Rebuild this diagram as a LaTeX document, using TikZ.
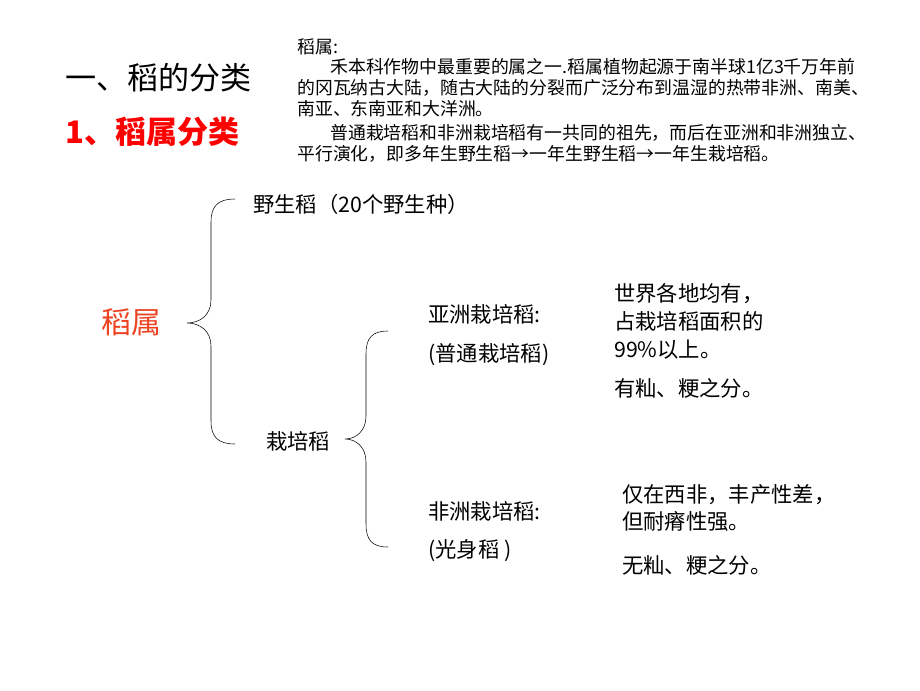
\documentclass[tikz,border=0pt]{standalone}
\usepackage{fontspec}
\setmainfont{Noto Sans CJK SC}
\definecolor{genusred}{RGB}{236,68,34}
\begin{document}
\begin{tikzpicture}[x=.75pt,y=-.75pt,
  txt/.style={inner sep=0pt,right,align=left,font=\fontsize{16}{21}\selectfont},
  bigtxt/.style={inner sep=0pt,right,font=\fontsize{23.3}{28}\selectfont}]
\useasboundingbox (0,0) rectangle (920,690);
% titles
\node[bigtxt] (title) at (65,78) {一、稻的分类};
\node[bigtxt,text=red,font=\fontsize{23.3}{28}\selectfont\bfseries] (subtitle) at (65,132) {1、稻属分类};
\node[inner sep=0pt,anchor=north west,align=left,font=\fontsize{13.4}{15.6}\selectfont] (note) at (297,38) {稻属:\\
\hspace*{1.85em}禾本科作物中最重要的属之一.稻属植物起源于南半球1亿3千万年前\\
的冈瓦纳古大陆，随古大陆的分裂而广泛分布到温湿的热带非洲、南美、\\
南亚、东南亚和大洋洲。\\[2.5pt]
\hspace*{1.85em}普通栽培稻和非洲栽培稻有一共同的祖先，而后在亚洲和非洲独立、\\
平行演化，即多年生野生稻→一年生野生稻→一年生栽培稻。};
% tree
\node[txt,text=genusred,font=\fontsize{22.5}{27}\selectfont] (genus) at (101,322) {稻属};
\node[txt] (wild) at (253,204) {野生稻（20个野生种）};
\node[txt] (cult) at (266,441) {栽培稻};
\node[txt] (asia) at (428,314) {亚洲栽培稻:};
\node[txt] (asiaalt) at (428,355) {(普通栽培稻)};
\node[txt] (asianote) at (614,321) {世界各地均有，\\占栽培稻面积的\\99\%以上。};
\node[txt] (asiaxian) at (614,388) {有籼、粳之分。};
\node[txt] (africa) at (428,511) {非洲栽培稻:};
\node[txt] (africaalt) at (428,551) {(光身稻 )};
\node[txt,font=\fontsize{16}{20}\selectfont] (africanote) at (622,508) {仅在西非，丰产性差，\\但耐瘠性强。};
\node[txt] (africaxian) at (622,565) {无籼、粳之分。};
% braces
\coordinate (b1top) at (235,199);
\coordinate (b1tip) at (187,323);
\coordinate (b1bot) at (235,444);
\coordinate (b2top) at (388,331);
\coordinate (b2tip) at (345,439);
\coordinate (b2bot) at (388,547);
\draw[thin] (b1top) .. controls +(-17,0) and +(0,-16) .. (211,222) -- (211,300)
  .. controls +(0,15) and +(13,0) .. (b1tip) .. controls +(13,0) and +(0,-15) .. (211,346)
  -- (211,421) .. controls +(0,16) and +(-17,0) .. (b1bot);
\draw[thin] (b2top) .. controls +(-16,0) and +(0,-16) .. (366,354) -- (366,416)
  .. controls +(0,15) and +(11,0) .. (b2tip) .. controls +(11,0) and +(0,-15) .. (366,462)
  -- (366,524) .. controls +(0,16) and +(-16,0) .. (b2bot);
\end{tikzpicture}
\end{document}
